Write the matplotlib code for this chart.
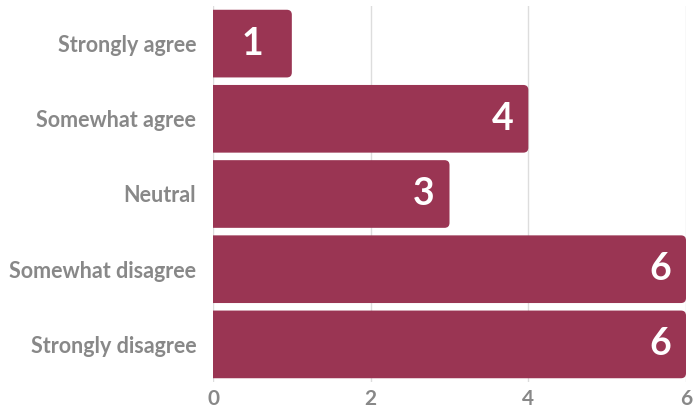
import matplotlib
matplotlib.use("Agg")
import matplotlib.pyplot as plt
from matplotlib.patches import FancyBboxPatch

categories = ["Strongly agree", "Somewhat agree", "Neutral", "Somewhat disagree", "Strongly disagree"]
values = [1, 4, 3, 6, 6]
xticks = [0, 2, 4, 6]

bar_color = "#9a3553"
text_gray = "#888888"
font = "Lato"

fig = plt.figure(figsize=(6.98, 4.09), dpi=100)
ax = fig.add_axes([213/698, 1-382/409, (686-213)/698, (382-6)/409])
ax.set_xlim(0, 6)
n = len(categories)
ax.set_ylim(n - 0.5, -0.5)

h = 0.9
px_x = (686-213)/6.0
px_y = (382-6)/n
r = 5 / px_x
aspect = (5/px_y) / r
for i, v in enumerate(values):
    y0 = i - h/2
    p = FancyBboxPatch((-0.3, y0), v + 0.3, h, boxstyle=f"round,pad=0,rounding_size={r}",
                       mutation_aspect=aspect, fc=bar_color, ec="none", zorder=2)
    ax.add_patch(p)
    if v * px_x < 120:
        ax.text(v/2, i, str(v), ha="center", va="center", color="white",
                fontsize=27, fontweight="bold", family=font, zorder=3)
    else:
        ax.text(v - 15/px_x, i, str(v), ha="right", va="center", color="white",
                fontsize=27, fontweight="bold", family=font, zorder=3)

ax.set_yticks(range(n))
ax.set_yticklabels(categories, family=font, fontweight="bold", fontsize=15.5, color=text_gray)
ax.set_xticks(xticks)
ax.set_xticklabels([str(t) for t in xticks], family=font, fontweight="bold", fontsize=15, color=text_gray)
ax.tick_params(axis="y", length=0, pad=12)
ax.tick_params(axis="x", length=0, pad=5)
for s in ax.spines.values():
    s.set_visible(False)
ax.grid(axis="x", color="#dddddd", linewidth=1, zorder=0)
ax.set_axisbelow(True)

fig.savefig("out.png", dpi=100)
